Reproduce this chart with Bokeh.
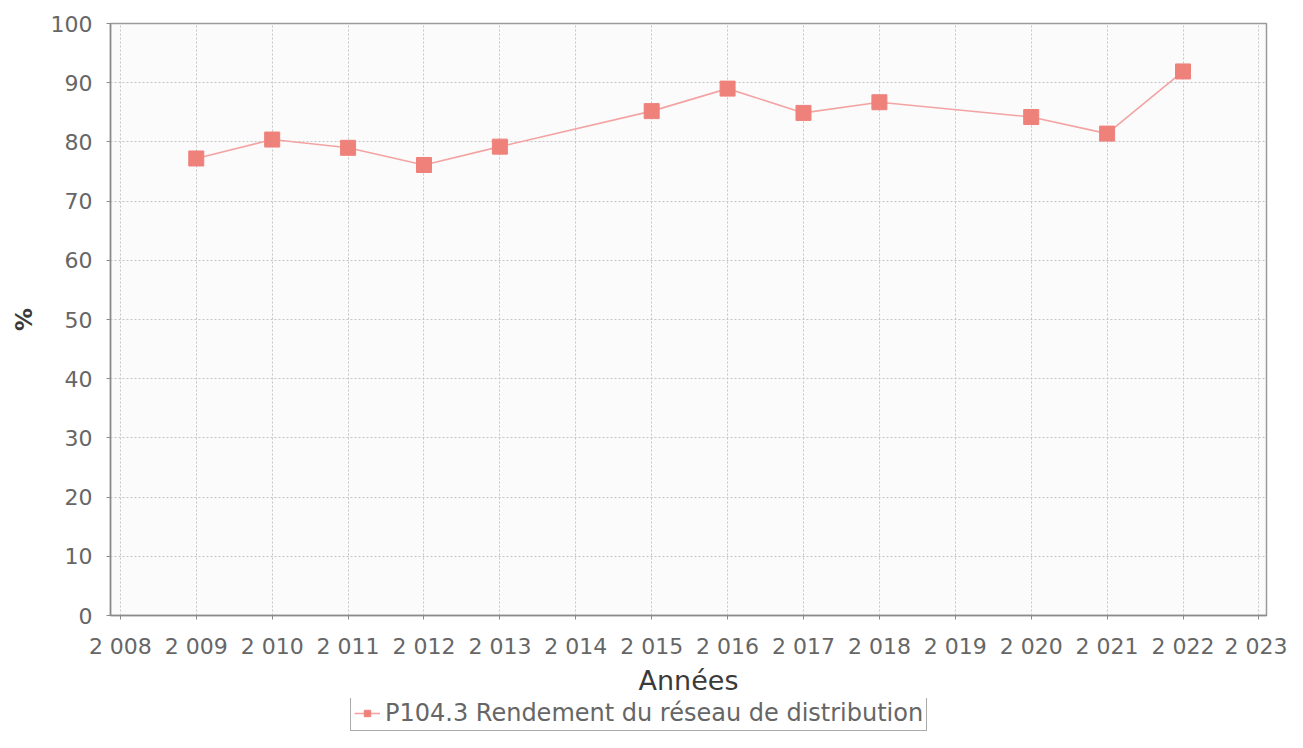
from bokeh.plotting import figure
from bokeh.layouts import column
from bokeh.models import FixedTicker, Legend, LegendItem, Range1d
from bokeh.embed import file_html
from bokeh.resources import INLINE

years = [2009, 2010, 2011, 2012, 2013, 2015, 2016, 2017, 2018, 2020, 2021, 2022]
rendement = [77.2, 80.4, 79.0, 76.1, 79.2, 85.2, 89.0, 84.9, 86.7, 84.2, 81.4, 91.9]
x_ticks = list(range(2008, 2024))
x_tick_labels = ["2 008", "2 009", "2 010", "2 011", "2 012", "2 013", "2 014", "2 015",
                 "2 016", "2 017", "2 018", "2 019", "2 020", "2 021", "2 022", "2 023"]
y_ticks = [0, 10, 20, 30, 40, 50, 60, 70, 80, 90, 100]
series_name = "P104.3 Rendement du réseau de distribution"

FONT = "DejaVu Sans"
LINE_COLOR = "#f4a3a3"
MARK_COLOR = "#ef817b"

p = figure(width=1287, height=698, output_backend="svg", toolbar_location=None,
           x_range=Range1d(2007.87, 2023.1), y_range=Range1d(0, 100),
           min_border_left=110, min_border_right=21, min_border_top=23, min_border_bottom=80)

p.background_fill_color = "#fbfbfb"
p.border_fill_color = "white"
p.outline_line_color = "#9a9a9a"
p.outline_line_width = 1.5

p.line(years, rendement, line_color=LINE_COLOR, line_width=1.6)
p.scatter(years, rendement, marker="square", size=15, fill_color=MARK_COLOR,
          line_color=MARK_COLOR)

p.xaxis.ticker = FixedTicker(ticks=x_ticks)
p.xaxis.major_label_overrides = {t: l for t, l in zip(x_ticks, x_tick_labels)}
p.yaxis.ticker = FixedTicker(ticks=y_ticks)

for ax in (p.xaxis[0], p.yaxis[0]):
    ax.axis_line_color = "#8a8a8a"
    ax.axis_line_width = 1.5
    ax.major_tick_line_color = "#8a8a8a"
    ax.major_tick_out = 4
    ax.major_tick_in = 0
    ax.minor_tick_line_color = None
    ax.major_label_text_font = FONT
    ax.major_label_text_font_size = "22px"
    ax.major_label_text_color = "#666666"
    ax.axis_label_text_font = FONT
    ax.axis_label_text_font_style = "normal"
    ax.axis_label_text_color = "#3a3a3a"

p.xaxis.axis_label = "Années"
p.xaxis.axis_label_text_font_size = "27px"
p.xaxis.major_label_standoff = 14
p.xaxis.axis_label_standoff = 3
p.yaxis.axis_label = "%"
p.yaxis.axis_label_text_font_size = "23px"
p.yaxis.axis_label_text_font_style = "bold"
p.yaxis.major_label_standoff = 14
p.yaxis.axis_label_standoff = 11

p.xgrid.grid_line_color = "#c4c4c4"
p.xgrid.grid_line_dash = "2 2"
p.ygrid.grid_line_color = "#c4c4c4"
p.ygrid.grid_line_dash = "2 2"

# legend strip below the chart (its sample glyphs sit outside its visible range)
pl = figure(width=1287, height=34, output_backend="svg", toolbar_location=None,
            x_axis_type=None, y_axis_type=None, min_border=0,
            x_range=Range1d(0, 1), y_range=Range1d(0, 1))
pl.outline_line_color = None
pl.grid.visible = False
pl.border_fill_color = "white"
pl.background_fill_color = "white"
lg_line = pl.line(years[:1], rendement[:1], line_color=LINE_COLOR, line_width=1.6)
lg_mark = pl.scatter(years[:1], rendement[:1], marker="square", size=12,
                     fill_color=MARK_COLOR, line_color=MARK_COLOR)
legend = Legend(items=[LegendItem(label=series_name, renderers=[lg_line, lg_mark])],
                location=(240, 1), orientation="horizontal",
                label_text_font=FONT, label_text_font_size="24px",
                label_text_color="#666666", border_line_color="#555555",
                border_line_width=1.5, background_fill_color="white",
                glyph_width=26, glyph_height=16, padding=3, spacing=4,
                label_standoff=5, margin=0)
pl.add_layout(legend, "center")

layout = column(p, pl, spacing=0)
open("out.html", "w").write(file_html(layout, INLINE))
